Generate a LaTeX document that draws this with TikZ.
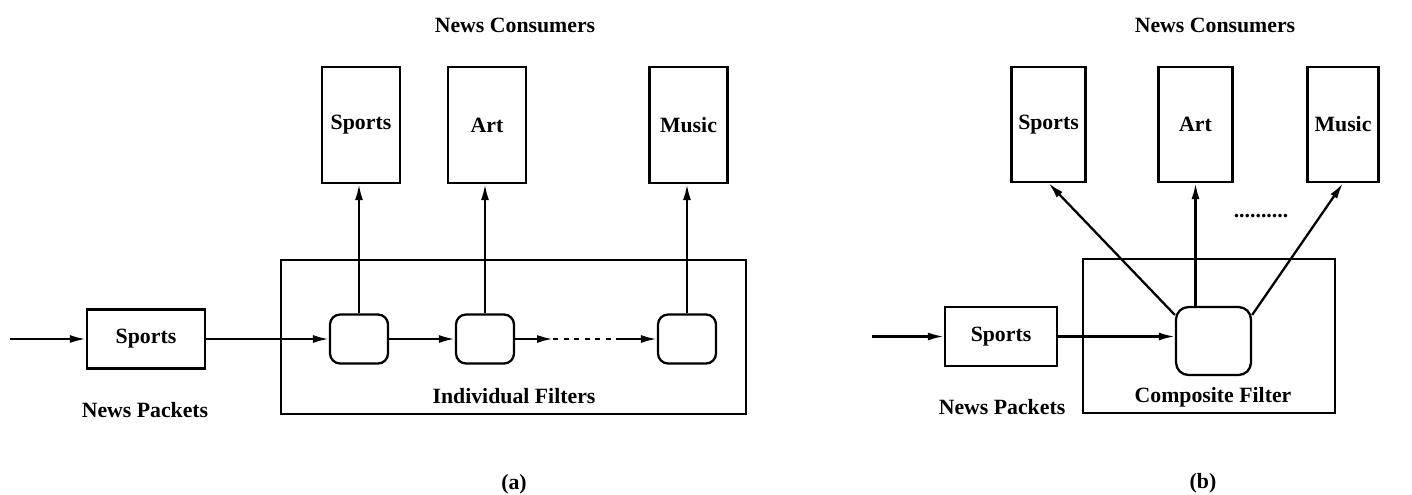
\documentclass[tikz,border=0pt]{standalone}
\usepackage{fontspec}
\setmainfont{Liberation Serif}
\usetikzlibrary{arrows.meta,positioning}

\begin{document}
\begin{tikzpicture}[x=0.02cm,y=-0.02cm,>={Latex[length=3.2mm,width=1.6mm]},line width=1.3pt,
  font=\bfseries\fontsize{12.4}{14}\selectfont,
  packet/.style={draw,minimum width=2.36cm,minimum height=1.18cm,inner sep=0pt},
  consumer/.style={draw,minimum width=1.56cm,minimum height=2.32cm,inner sep=0pt},
  filterbox/.style={draw,rounded corners=0.2cm,minimum width=1.16cm,minimum height=0.98cm,inner sep=0pt},
  frame/.style={draw,minimum height=3.08cm,inner sep=0pt}]
\useasboundingbox (0,0) rectangle (1412,494);
% (a) individual filters
\node[frame,minimum width=9.3cm] (fa) at (513.5,337) {};
\node[packet] (pa) at (146,339) {Sports};
\coordinate (ina) at (10,339);
\node[filterbox] (f1) at (359,339) {};
\node[filterbox] (f2) at (485,339) {};
\node[filterbox] (f3) at (687,339) {};
\coordinate (d1) at (553,339);
\coordinate (d2) at (622,339);
\node[consumer] (ca1) at (361,125) {Sports};
\node[consumer] (ca2) at (487,125) {Art};
\node[consumer] (ca3) at (688.5,125) {Music};
\node (npa) at (145,410) {News Packets};
\node (ifl) at (514,396) {Individual Filters};
\node (nca) at (515,25) {News Consumers};
\node (capa) at (514,484) {(a)};
\draw[->] (ina) -- (pa);
\draw[->] (pa) -- (f1);
\draw[->] (f1) -- (f2);
\draw[->] (f2) -- (d1);
\draw[dashed] (d1) -- (d2);
\draw[->] (d2) -- (f3);
\draw[->] (f1.north) -- (f1.north |- ca1.south);
\draw[->] (f2.north) -- (f2.north |- ca2.south);
\draw[->] (f3.north) -- (f3.north |- ca3.south);
% (b) composite filter
\node[frame,minimum width=5.04cm] (fb) at (1209,336) {};
\node[packet,minimum width=2.24cm] (pb) at (1001,336.5) {Sports};
\coordinate (inb) at (872,336.5);
\node[filterbox,rounded corners=0.25cm,minimum width=1.5cm,minimum height=1.36cm] (cf) at (1213.5,341) {};
\node[consumer,minimum width=1.48cm,minimum height=2.3cm] (cb1) at (1048.5,124.5) {Sports};
\node[consumer,minimum width=1.48cm,minimum height=2.3cm] (cb2) at (1195.5,124.5) {Art};
\node[consumer,minimum width=1.42cm,minimum height=2.3cm] (cb3) at (1343,124.5) {Music};
\node (dots) at (1261,216) {..........};
\node (npb) at (1002,407) {News Packets};
\node (cfl) at (1213,397) {Composite Filter};
\node (ncb) at (1215,25) {News Consumers};
\node (capb) at (1203,483) {(b)};
\draw[->] (inb) -- (pb);
\draw[->] (pb.east) -- (pb.east -| cf.west);
\draw[->] (cf.146) -- (cb1.south);
\draw[->] (cb2.south |- cf.north) -- (cb2.south);
\draw[->] (cf.34) -- (cb3.south);
\end{tikzpicture}
\end{document}
